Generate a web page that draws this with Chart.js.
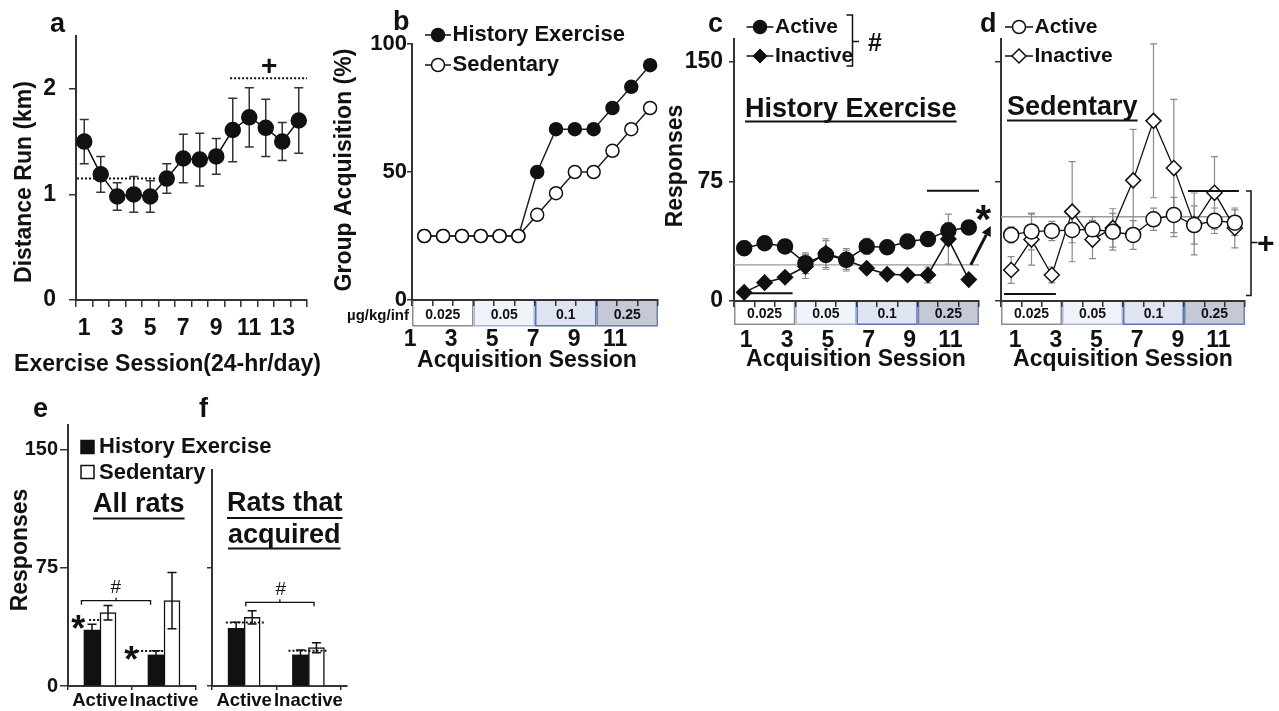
<!DOCTYPE html>
<html lang="en">
<head>
<meta charset="utf-8">
<title>Exercise history and acquisition of self-administration</title>
<script src="https://cdn.jsdelivr.net/npm/chart.js@4.4.1/dist/chart.umd.min.js"></script>
<style>
  html, body { margin: 0; padding: 0; background: #ffffff; }
  #figure { position: relative; width: 1279px; height: 711px; overflow: hidden; background: #ffffff; }
  #figure canvas { position: absolute; left: 0; top: 0; }
</style>
</head>
<body>
<div id="figure">
  <canvas id="panelA" width="1279" height="711"></canvas>
  <canvas id="panelB" width="1279" height="711"></canvas>
  <canvas id="panelC" width="1279" height="711"></canvas>
  <canvas id="panelD" width="1279" height="711"></canvas>
  <canvas id="panelE" width="1279" height="711"></canvas>
  <canvas id="panelF" width="1279" height="711"></canvas>
</div>
<script>
/* ---------------- data ---------------- */

// a: distance run on the wheel in each 24-h exercise session (mean, SEM)
const runSessions = ['1','2','3','4','5','6','7','8','9','10','11','12','13','14'];
const runKm  = [1.50, 1.19, 0.98, 1.00, 0.98, 1.15, 1.34, 1.33, 1.36, 1.61, 1.73, 1.63, 1.50, 1.70];
const runSem = [0.21, 0.17, 0.13, 0.17, 0.15, 0.14, 0.23, 0.25, 0.17, 0.30, 0.28, 0.27, 0.18, 0.31];
const runTicks = [0, 1, 2];
const runEarlyLevel = 1.15;
const runLateLevel = 2.1;

// b: percentage of each group that met acquisition criteria
const acqSessions = ['1','2','3','4','5','6','7','8','9','10','11','12'];
const groupExercise  = [25, 25, 25, 25, 25, 25, 50, 66.7, 66.7, 66.7, 75, 83.3, 91.7];
const groupSedentary = [25, 25, 25, 25, 25, 25, 33.3, 41.7, 50, 50, 58.3, 66.7, 75];
const pctTicks = [0, 50, 100];

// unit dose available in each block of sessions
const doseLabels = ['0.025', '0.05', '0.1', '0.25'];
const sessionsPerDose = 3;
const doseUnit = 'µg/kg/inf';

// c: lever responses, history of exercise
const heActive        = [33.1, 36.2, 34.2, 23.7, 28.9, 25.8, 34.2, 33.7, 37.3, 38.8, 44.2, 46.1];
const heActiveSem     = [4.5, 2.5, 3.5, 6.5, 9.0, 7.0, 5.0, 4.0, 3.5, 3.0, 5.0, 2.5];
const heInactive      = [5.4, 11.5, 14.9, 21.6, 30.0, 25.8, 20.5, 16.8, 16.3, 16.3, 38.8, 13.4];
const heInactiveSem   = [1.5, 2.0, 2.5, 7.5, 9.0, 6.0, 2.5, 2.5, 2.5, 5.0, 15.7, 2.0];
const heReference = 22.6;
const heLowBar = 4.8;
const heHighBar = 69.1;

// d: lever responses, sedentary
const sedActive       = [41.4, 43.6, 43.9, 44.5, 44.9, 43.4, 41.4, 51.2, 53.9, 47.6, 50.3, 49.1];
const sedActiveSem    = [5.0, 11.5, 6.0, 8.0, 8.0, 11.5, 9.0, 7.0, 11.0, 12.0, 8.0, 8.0];
const sedInactive     = [19.4, 38.5, 16.3, 56.0, 38.5, 45.8, 75.6, 112.9, 83.3, 48.3, 67.8, 45.8];
const sedInactiveSem  = [8.4, 16.0, 5.0, 31.4, 12.0, 12.0, 32.0, 48.2, 43.0, 19.4, 22.7, 12.5];
const sedReference = 52.8;
const sedLowBar = 4.4;
const sedHighBar = 69.0;
const respTicks = [0, 75, 150];

// e, f: mean responses over all sessions
const barGroups = ['Active', 'Inactive'];
const allExercise     = [35.5, 19.7];
const allExerciseSem  = [3.6, 2.7];
const allSedentary    = [46.5, 54.1];
const allSedentarySem = [4.6, 17.8];
const acqExercise     = [36.6, 19.7];
const acqExerciseSem  = [3.8, 3.1];
const acqSedentary    = [43.6, 24.3];
const acqSedentarySem = [4.2, 3.2];

/* ---------------- look ---------------- */
const W = 1279, H = 711;
const FONT = '"Liberation Sans", Arial, Helvetica, sans-serif';
const INK = '#111111';
const AXIS = '#333333';
const DOSE_FILL = ['#ffffff', '#f1f3fa', '#dfe4f2', '#c5c8d7'];
const DOSE_EDGE = ['#8d8d8d', '#a9b7da', '#5a76b6', '#6b82b8'];
Chart.defaults.font.family = FONT;
Chart.defaults.color = INK;

/* ---------------- helpers ---------------- */
// chart area given as [left, top, right, bottom] on the shared page canvas;
// the left and bottom axes are stretched to the canvas edges so that their
// tick labels are never clipped
function frame(area, scales) {
  const [L, T, R, B] = area;
  Object.values(scales).forEach(cfg => {
    if (cfg.display === false) return;
    cfg.afterFit = cfg.position === 'left' ? (s => { s.width = L; }) : (s => { s.height = H - B; });
  });
  return {
    responsive: false, maintainAspectRatio: false, animation: false,
    devicePixelRatio: 1, events: [],
    layout: { padding: { left: 0, top: T, right: W - R, bottom: 0 } },
    plugins: { legend: { display: false }, tooltip: { enabled: false }, title: { display: false } },
    scales
  };
}

function yAxis(max, ticks, o) {
  return {
    type: 'linear', position: 'left', min: 0, max,
    afterBuildTicks: s => { s.ticks = ticks.filter(v => v <= max).map(v => ({ value: v })); },
    border: { display: true, color: AXIS, width: 2 },
    grid: { display: true, drawOnChartArea: false, drawTicks: true, tickLength: o.tick, color: AXIS, lineWidth: 1.5 },
    ticks: { display: !!o.size, padding: o.pad || 0, color: INK,
             font: { family: FONT, size: o.size || 12, weight: 'bold' } }
  };
}

function sessionAxis(labels, o) {
  return {
    type: 'category', position: 'bottom', labels, offset: true,
    border: { display: true, color: AXIS, width: 2 },
    grid: { display: true, offset: true, drawOnChartArea: false, drawTicks: true, tickLength: o.tick, color: AXIS, lineWidth: 1.5 },
    ticks: { autoSkip: false, maxRotation: 0, minRotation: 0, padding: o.pad, labelOffset: o.shift || 0,
             color: INK, font: { family: FONT, size: 23, weight: 'bold' },
             callback: (v, i) => (i % 2 === 0 ? labels[i] : '') }
  };
}

function groupAxis(min, max) {
  return {
    type: 'linear', position: 'bottom', min, max, offset: false,
    afterBuildTicks: s => { s.ticks = barGroups.map((g, i) => ({ value: i })); },
    border: { display: true, color: AXIS, width: 2 },
    grid: { display: true, offset: true, drawOnChartArea: false, drawTicks: true, tickLength: 4, color: AXIS, lineWidth: 1.5 },
    ticks: { autoSkip: false, maxRotation: 0, minRotation: 0, padding: -0.5, color: INK,
             font: { family: FONT, size: 18.5, weight: 'bold' },
             callback: (v, i) => barGroups[i] }
  };
}

function lineSet(data, o) {
  return Object.assign({
    data, borderColor: INK, borderWidth: 1.5, tension: 0, clip: false,
    pointStyle: 'circle', pointRadius: 7, pointBorderWidth: 1.5,
    pointBorderColor: INK, pointBackgroundColor: INK
  }, o);
}

function barSet(values, o) {
  return Object.assign({
    data: values.map((v, i) => ({ x: i, y: v })),
    barThickness: 16, borderColor: INK, borderWidth: 0, backgroundColor: INK
  }, o);
}

const onSessions = values => values.map((v, i) => ({ x: i + 1, y: v }));

function segment(ctx, x1, y1, x2, y2, color, width, dash) {
  ctx.save();
  ctx.strokeStyle = color; ctx.lineWidth = width; ctx.setLineDash(dash || []);
  ctx.beginPath(); ctx.moveTo(x1, y1); ctx.lineTo(x2, y2); ctx.stroke();
  ctx.restore();
}

function polyline(ctx, pts, color, width) {
  ctx.save();
  ctx.strokeStyle = color; ctx.lineWidth = width; ctx.lineJoin = 'miter';
  ctx.beginPath(); ctx.moveTo(pts[0][0], pts[0][1]);
  for (let i = 1; i < pts.length; i++) ctx.lineTo(pts[i][0], pts[i][1]);
  ctx.stroke(); ctx.restore();
}

function label(ctx, s, x, y, size, o = {}) {
  ctx.save();
  ctx.font = `${o.weight || 'bold'} ${size}px ${FONT}`;
  ctx.fillStyle = o.color || INK;
  ctx.textAlign = o.align || 'left';
  ctx.textBaseline = o.base || 'middle';
  if (o.rotate) { ctx.translate(x, y); ctx.rotate(o.rotate); ctx.fillText(s, 0, 0); }
  else ctx.fillText(s, x, y);
  const w = ctx.measureText(s).width;
  ctx.restore();
  return w;
}

// glyph ink centred on (cx, cy): used for the significance symbols
function symbol(ctx, s, cx, cy, size, weight) {
  ctx.save();
  ctx.font = `${weight || 'bold'} ${size}px ${FONT}`;
  ctx.fillStyle = INK; ctx.textAlign = 'left'; ctx.textBaseline = 'alphabetic';
  const m = ctx.measureText(s);
  const x = cx - (m.actualBoundingBoxRight - m.actualBoundingBoxLeft) / 2;
  const y = cy + (m.actualBoundingBoxAscent - m.actualBoundingBoxDescent) / 2;
  ctx.fillText(s, x, y);
  ctx.restore();
}

function underlined(ctx, s, x, y, size, uy) {
  const w = label(ctx, s, x, y, size);
  segment(ctx, x, uy, x + w, uy, INK, 2);
}

function marker(ctx, shape, x, y, r, filled) {
  ctx.save();
  ctx.fillStyle = filled ? INK : '#ffffff'; ctx.strokeStyle = INK; ctx.lineWidth = 1.5;
  ctx.beginPath();
  if (shape === 'circle') ctx.arc(x, y, r, 0, Math.PI * 2);
  else if (shape === 'rectRot') { ctx.moveTo(x, y - r); ctx.lineTo(x + r, y); ctx.lineTo(x, y + r); ctx.lineTo(x - r, y); ctx.closePath(); }
  else ctx.rect(x - r, y - r, 2 * r, 2 * r);
  ctx.fill(); ctx.stroke();
  ctx.restore();
}

function legendRow(ctx, x, y, shape, filled, r, text, size, half) {
  segment(ctx, x - half, y, x + half, y, INK, 1.5);
  marker(ctx, shape, x, y, r, filled);
  label(ctx, text, x + half + 1.5, y, size);
}

function errorBars(chart, index, values, sems, style) {
  const ctx = chart.ctx;
  const meta = chart.getDatasetMeta(index);
  const ys = chart.scales[meta.yAxisID];
  ctx.save();
  ctx.strokeStyle = style.color; ctx.lineWidth = style.width;
  meta.data.forEach((el, i) => {
    const top = ys.getPixelForValue(values[i] + sems[i]);
    const bot = ys.getPixelForValue(values[i] - sems[i]);
    ctx.beginPath();
    ctx.moveTo(el.x, top); ctx.lineTo(el.x, bot);
    ctx.moveTo(el.x - style.cap, top); ctx.lineTo(el.x + style.cap, top);
    ctx.moveTo(el.x - style.cap, bot); ctx.lineTo(el.x + style.cap, bot);
    ctx.stroke();
  });
  ctx.restore();
}

// dose blocks hanging under the session axis
function doseBoxes(chart, height, textDy) {
  const ctx = chart.ctx, xs = chart.scales.x, top = chart.chartArea.bottom;
  doseLabels.forEach((d, k) => {
    const x1 = xs.getPixelForValue(k * sessionsPerDose - 0.5);
    const x2 = xs.getPixelForValue((k + 1) * sessionsPerDose - 0.5);
    ctx.save();
    ctx.fillStyle = DOSE_FILL[k];
    ctx.fillRect(x1, top, x2 - x1, height);
    ctx.strokeStyle = DOSE_EDGE[k]; ctx.lineWidth = 1.5;
    ctx.strokeRect(x1 + 0.75, top, x2 - x1 - 1.5, height - 0.75);
    ctx.restore();
    label(ctx, d, (x1 + x2) / 2, top + textDy, 14, { align: 'center' });
  });
}

function arrow(ctx, x1, y1, x2, y2) {
  const a = Math.atan2(y2 - y1, x2 - x1);
  const len = 10, half = 5;
  const bx = x2 - len * Math.cos(a), by = y2 - len * Math.sin(a);
  segment(ctx, x1, y1, bx, by, INK, 3);
  ctx.save();
  ctx.fillStyle = INK;
  ctx.beginPath();
  ctx.moveTo(x2, y2);
  ctx.lineTo(bx + half * Math.sin(a), by - half * Math.cos(a));
  ctx.lineTo(bx - half * Math.sin(a), by + half * Math.cos(a));
  ctx.closePath(); ctx.fill();
  ctx.restore();
}

const UP = -Math.PI / 2;

/* ---------------- a: wheel running ---------------- */
new Chart(document.getElementById('panelA'), {
  type: 'line',
  data: { labels: runSessions, datasets: [lineSet(runKm, { pointRadius: 7.5 })] },
  options: frame([76, 36, 307, 300], {
    x: sessionAxis(runSessions, { tick: 7, pad: 7.7 }),
    y: yAxis(2.5, runTicks, { tick: 7, pad: 13, size: 23 })
  }),
  plugins: [{
    id: 'runNotes',
    beforeDatasetsDraw(c) { errorBars(c, 0, runKm, runSem, { color: '#333', width: 1.5, cap: 4.5 }); },
    afterDraw(c) {
      const ctx = c.ctx, xs = c.scales.x, ys = c.scales.y;
      label(ctx, 'a', 50, 32, 27, { base: 'alphabetic' });
      label(ctx, 'Distance Run (km)', 25, 182, 23, { align: 'center', rotate: UP });
      label(ctx, 'Exercise Session(24-hr/day)', 167.5, 365, 23, { align: 'center' });
      segment(ctx, xs.getPixelForValue(-0.44), ys.getPixelForValue(runEarlyLevel),
              xs.getPixelForValue(4.3), ys.getPixelForValue(runEarlyLevel), INK, 2, [2, 2]);
      segment(ctx, xs.getPixelForValue(8.84), ys.getPixelForValue(runLateLevel),
              xs.getPixelForValue(13.5), ys.getPixelForValue(runLateLevel), INK, 2, [2, 2]);
      symbol(ctx, '+', 269.5, 65, 28);
    }
  }]
});

/* ---------------- b: group acquisition ---------------- */
new Chart(document.getElementById('panelB'), {
  type: 'line',
  data: {
    labels: acqSessions,
    datasets: [
      lineSet(onSessions(groupSedentary), { xAxisID: 'xd', order: 0, pointRadius: 6.5, pointBackgroundColor: '#ffffff', borderColor: '#222' }),
      lineSet(onSessions(groupExercise), { xAxisID: 'xd', order: 1, pointRadius: 6.5, borderColor: '#222' })
    ]
  },
  options: frame([412, 44, 658, 300], {
    x: sessionAxis(acqSessions, { tick: 6, pad: 19.7, shift: -12 }),
    xd: { type: 'linear', display: false, min: 0.346, max: 13.42 },
    y: yAxis(100, pctTicks, { tick: 5, pad: 0, size: 22 })
  }),
  plugins: [{
    id: 'groupNotes',
    beforeDraw(c) { doseBoxes(c, 26.5, 15.5); },
    afterDraw(c) {
      const ctx = c.ctx;
      label(ctx, 'b', 393, 30, 27, { base: 'alphabetic' });
      label(ctx, 'Group Acquisition (%)', 345, 170, 23, { align: 'center', rotate: UP });
      label(ctx, 'Acquisition Session', 527, 360.5, 23, { align: 'center' });
      label(ctx, doseUnit, 409, 316, 15, { align: 'right' });
      legendRow(ctx, 438, 35, 'circle', true, 6.5, 'History Exercise', 22, 13);
      legendRow(ctx, 438, 65, 'circle', false, 6.5, 'Sedentary', 22, 13);
    }
  }]
});

/* ---------------- c: history exercise responses ---------------- */
new Chart(document.getElementById('panelC'), {
  type: 'line',
  data: {
    labels: acqSessions,
    datasets: [
      lineSet(heActive, { order: 0, pointRadius: 7.5 }),
      lineSet(heInactive, { order: 1, pointStyle: 'rectRot', pointRadius: 7.5 })
    ]
  },
  options: frame([734, 39, 979, 301], {
    x: sessionAxis(acqSessions, { tick: 6, pad: 19.7, shift: 2 }),
    y: yAxis(164.2, respTicks, { tick: 5, pad: 6, size: 23 })
  }),
  plugins: [{
    id: 'exerciseNotes',
    beforeDraw(c) { doseBoxes(c, 24, 13.5); },
    beforeDatasetsDraw(c) {
      const ctx = c.ctx, a = c.chartArea, ys = c.scales.y;
      segment(ctx, a.left, ys.getPixelForValue(heReference), a.right, ys.getPixelForValue(heReference), '#9a9a9a', 1.3);
      errorBars(c, 1, heInactive, heInactiveSem, { color: '#8a8a8a', width: 1.2, cap: 3.5 });
      errorBars(c, 0, heActive, heActiveSem, { color: '#8a8a8a', width: 1.2, cap: 3.5 });
    },
    afterDraw(c) {
      const ctx = c.ctx, xs = c.scales.x, ys = c.scales.y;
      label(ctx, 'c', 708, 32, 27, { base: 'alphabetic' });
      label(ctx, 'Responses', 676, 166, 23, { align: 'center', rotate: UP });
      label(ctx, 'Acquisition Session', 856, 360, 23, { align: 'center' });
      legendRow(ctx, 760, 27, 'circle', true, 6.5, 'Active', 21, 13.5);
      legendRow(ctx, 760, 56, 'rectRot', true, 6.5, 'Inactive', 21, 13.5);
      polyline(ctx, [[846.5, 15], [852.5, 15], [852.5, 66], [846.5, 66]], INK, 1.5);
      segment(ctx, 852.5, 41.5, 859, 41.5, INK, 1.5);
      symbol(ctx, '#', 875, 42, 25);
      underlined(ctx, 'History Exercise', 745, 110, 27, 121.5);
      segment(ctx, xs.getPixelForValue(-0.07), ys.getPixelForValue(heLowBar),
              xs.getPixelForValue(2.37), ys.getPixelForValue(heLowBar), INK, 2);
      segment(ctx, xs.getPixelForValue(8.95), ys.getPixelForValue(heHighBar),
              xs.getPixelForValue(11.5), ys.getPixelForValue(heHighBar), INK, 2);
      const ax = xs.getPixelForValue(11) + 2, ay = ys.getPixelForValue(heReference);
      arrow(ctx, ax, ay, ax + 20, ay - 39);
      symbol(ctx, '*', 983.5, 212.5, 40);
    }
  }]
});

/* ---------------- d: sedentary responses ---------------- */
new Chart(document.getElementById('panelD'), {
  type: 'line',
  data: {
    labels: acqSessions,
    datasets: [
      lineSet(sedActive, { order: 0, pointRadius: 7.5, pointBackgroundColor: '#ffffff', borderWidth: 1.3 }),
      lineSet(sedInactive, { order: 1, pointStyle: 'rectRot', pointRadius: 7.5, pointBackgroundColor: '#ffffff', borderWidth: 1.3 })
    ]
  },
  options: frame([1001, 39, 1245, 301], {
    x: sessionAxis(acqSessions, { tick: 6, pad: 19.7, shift: 4 }),
    y: yAxis(164.2, respTicks, { tick: 6 })
  }),
  plugins: [{
    id: 'sedentaryNotes',
    beforeDraw(c) { doseBoxes(c, 24, 13.5); },
    beforeDatasetsDraw(c) {
      const ctx = c.ctx, a = c.chartArea, ys = c.scales.y;
      segment(ctx, a.left, ys.getPixelForValue(sedReference), a.right - 5, ys.getPixelForValue(sedReference), '#9a9a9a', 1.3);
      errorBars(c, 1, sedInactive, sedInactiveSem, { color: '#8a8a8a', width: 1.2, cap: 3.5 });
      errorBars(c, 0, sedActive, sedActiveSem, { color: '#8a8a8a', width: 1.2, cap: 3.5 });
    },
    afterDraw(c) {
      const ctx = c.ctx, xs = c.scales.x, ys = c.scales.y;
      label(ctx, 'd', 980, 32, 27, { base: 'alphabetic' });
      label(ctx, 'Acquisition Session', 1123, 360, 23, { align: 'center' });
      legendRow(ctx, 1019, 27, 'circle', false, 6.5, 'Active', 21, 14);
      legendRow(ctx, 1019, 56, 'rectRot', false, 7, 'Inactive', 21, 14);
      underlined(ctx, 'Sedentary', 1007, 107.5, 27, 120.5);
      const lowY = ys.getPixelForValue(sedLowBar), highY = ys.getPixelForValue(sedHighBar);
      segment(ctx, xs.getPixelForValue(-0.35), lowY, xs.getPixelForValue(2.2), lowY, INK, 2);
      segment(ctx, xs.getPixelForValue(8.7), highY, xs.getPixelForValue(11.2), highY, INK, 2);
      polyline(ctx, [[1246, highY], [1251, highY], [1251, lowY + 1.5], [1246, lowY + 1.5]], INK, 1.5);
      segment(ctx, 1251, 242.5, 1257.5, 242.5, INK, 1.5);
      symbol(ctx, '+', 1266, 242.5, 30);
    }
  }]
});

/* ---------------- e: all rats ---------------- */
new Chart(document.getElementById('panelE'), {
  type: 'bar',
  data: {
    datasets: [
      barSet(allExercise, { backgroundColor: INK }),
      barSet(allSedentary, { backgroundColor: '#ffffff', borderWidth: 1.5 })
    ]
  },
  options: frame([68, 425, 196, 686], {
    x: groupAxis(-0.5, 1.5),
    y: yAxis(165.5, respTicks, { tick: 8, pad: 2, size: 20 })
  }),
  plugins: [{
    id: 'allRatsNotes',
    afterDatasetsDraw(c) {
      errorBars(c, 0, allExercise, allExerciseSem, { color: INK, width: 1.5, cap: 4.5 });
      errorBars(c, 1, allSedentary, allSedentarySem, { color: INK, width: 1.5, cap: 4.5 });
    },
    afterDraw(c) {
      const ctx = c.ctx, xs = c.scales.x, ys = c.scales.y;
      label(ctx, 'e', 33, 417, 27, { base: 'alphabetic' });
      label(ctx, 'Responses', 21, 550, 23, { align: 'center', rotate: UP });
      marker(ctx, 'rect', 87.5, 447, 6.5, true);
      label(ctx, 'History Exercise', 99, 447, 22);
      marker(ctx, 'rect', 87.5, 472, 6.5, false);
      label(ctx, 'Sedentary', 99, 472.5, 22);
      underlined(ctx, 'All rats', 93, 505, 27, 518.5);
      // between-group comparison bracket
      const by = ys.getPixelForValue(54.1);
      const bl = xs.getPixelForValue(-0.29), br = xs.getPixelForValue(0.79), bm = xs.getPixelForValue(0.25);
      polyline(ctx, [[bl, by + 4], [bl, by], [br, by], [br, by + 4]], INK, 1.3);
      segment(ctx, bm, by, bm, by - 3, INK, 1.3);
      symbol(ctx, '#', bm, 586, 19, 'normal');
      // exercise vs sedentary markers
      const d1 = ys.getPixelForValue(allSedentary[0] - allSedentarySem[0]);
      segment(ctx, xs.getPixelForValue(-0.17), d1, xs.getPixelForValue(0), d1, INK, 2, [2, 2]);
      symbol(ctx, '*', 78.3, 621.7, 36);
      const d2 = ys.getPixelForValue(22.2);
      segment(ctx, xs.getPixelForValue(0.58), d2, xs.getPixelForValue(0.99), d2, INK, 2, [2, 2]);
      symbol(ctx, '*', 131.2, 653.3, 36);
    }
  }]
});

/* ---------------- f: rats that acquired ---------------- */
new Chart(document.getElementById('panelF'), {
  type: 'bar',
  data: {
    datasets: [
      barSet(acqExercise, { backgroundColor: INK }),
      barSet(acqSedentary, { backgroundColor: '#ffffff', borderWidth: 1.5 })
    ]
  },
  options: frame([212, 470, 347, 686], {
    x: groupAxis(-0.5, 1.6),
    y: yAxis(137, respTicks, { tick: 5 })
  }),
  plugins: [{
    id: 'acquiredNotes',
    afterDatasetsDraw(c) {
      errorBars(c, 0, acqExercise, acqExerciseSem, { color: INK, width: 1.5, cap: 4.5 });
      errorBars(c, 1, acqSedentary, acqSedentarySem, { color: INK, width: 1.5, cap: 4.5 });
    },
    afterDraw(c) {
      const ctx = c.ctx, xs = c.scales.x, ys = c.scales.y;
      label(ctx, 'f', 199, 417, 27, { base: 'alphabetic' });
      underlined(ctx, 'Rats that', 227, 503.5, 27, 518);
      underlined(ctx, 'acquired', 228, 536, 27, 548.5);
      const by = ys.getPixelForValue(53.1);
      const bl = xs.getPixelForValue(0.025), br = xs.getPixelForValue(1.087), bm = xs.getPixelForValue(0.556);
      polyline(ctx, [[bl, by + 4], [bl, by], [br, by], [br, by + 4]], INK, 1.3);
      segment(ctx, bm, by, bm, by - 3, INK, 1.3);
      symbol(ctx, '#', bm + 1, 588, 19, 'normal');
      const d1 = ys.getPixelForValue(40.2);
      segment(ctx, xs.getPixelForValue(-0.285), d1, xs.getPixelForValue(0.31), d1, INK, 2, [2, 2]);
      const d2 = ys.getPixelForValue(22.4);
      segment(ctx, xs.getPixelForValue(0.69), d2, xs.getPixelForValue(1.31), d2, INK, 2, [2, 2]);
    }
  }]
});
</script>
</body>
</html>
